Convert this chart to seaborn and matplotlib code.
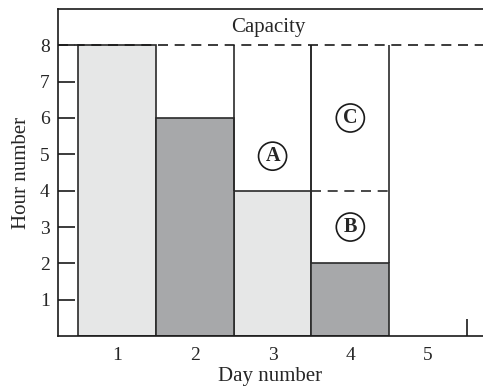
import matplotlib
matplotlib.use("Agg")
import matplotlib.pyplot as plt
import pandas as pd
import seaborn as sns

# --- data ---
days = [1, 2, 3, 4]
hours_used = [8, 6, 4, 2]
shade = ["light", "dark", "light", "dark"]
capacity = 8
day_ticks = [1, 2, 3, 4, 5]
hour_ticks = [1, 2, 3, 4, 5, 6, 7, 8]

# open (unscheduled) blocks
block_day = [3, 4, 4]
block_low = [4, 2, 4]
block_high = [8, 4, 8]
block_label = ["A", "B", "C"]
block_label_y = [4.95, 3.0, 6.0]

palette = {"light": "#e6e7e7", "dark": "#a7a8aa"}


def main():
    sns.set_style("ticks")
    plt.rcParams["font.family"] = ["Liberation Serif", "DejaVu Serif"]

    df = pd.DataFrame({"Day": days, "Hours": hours_used, "Shade": shade})

    fig = plt.figure(figsize=(4.83, 3.89), dpi=100)
    ax = fig.add_axes([0.120, 0.136, 0.879, 0.841])

    sns.barplot(
        data=df, x="Day", y="Hours", hue="Shade", palette=palette,
        native_scale=True, width=1, dodge=False, legend=False,
        edgecolor="#2a2a2a", linewidth=1.2, ax=ax, zorder=2,
    )

    # open blocks: solid sides, dashed top when another block sits above
    for d, lo, hi in zip(block_day, block_low, block_high):
        ax.vlines([d - 0.5, d + 0.5], lo, hi, color="#2a2a2a", lw=1.2, zorder=3)
        if hi < capacity:
            ax.hlines(hi, d - 0.5, d + 0.5, color="#2a2a2a", lw=1.2,
                      linestyles=(0, (6, 4)), zorder=3)

    for d, y, lab in zip(block_day, block_label_y, block_label):
        ax.text(d, y, lab, ha="center", va="center", fontsize=14.5,
                fontweight="bold",
                bbox=dict(boxstyle="circle,pad=0.2", fc="white",
                          ec="#1a1a1a", lw=1.2), zorder=4)

    # capacity line
    ax.axhline(capacity, color="#1a1a1a", lw=1.2, linestyle=(0, (6, 4)),
               zorder=3)
    ax.text(2.94, capacity + 0.5, "Capacity", ha="center", va="center",
            fontsize=15)

    ax.set_xlim(0.24, 5.7)
    ax.set_ylim(0, 9)
    ax.set_xticks(day_ticks)
    ax.set_xticklabels([str(t) for t in day_ticks])
    ax.set_xticks([5.5], minor=True)
    ax.set_yticks(hour_ticks)
    ax.set_yticklabels([str(t) for t in hour_ticks])
    ax.tick_params(axis="x", which="major", length=0, pad=8, labelsize=14)
    ax.tick_params(axis="x", which="minor", direction="in", length=12,
                   width=1.2, color="#1a1a1a")
    ax.tick_params(axis="y", direction="in", length=12, width=1.2,
                   pad=6, labelsize=14, color="#1a1a1a")

    for side in ["left", "top", "bottom"]:
        ax.spines[side].set_linewidth(1.2)
        ax.spines[side].set_color("#1a1a1a")
    ax.spines["right"].set_visible(False)

    ax.set_xlabel("Day number", fontsize=15, labelpad=2)
    ax.set_ylabel("Hour number", fontsize=15, labelpad=6)

    fig.savefig("out.png", dpi=100)


if __name__ == "__main__":
    main()
